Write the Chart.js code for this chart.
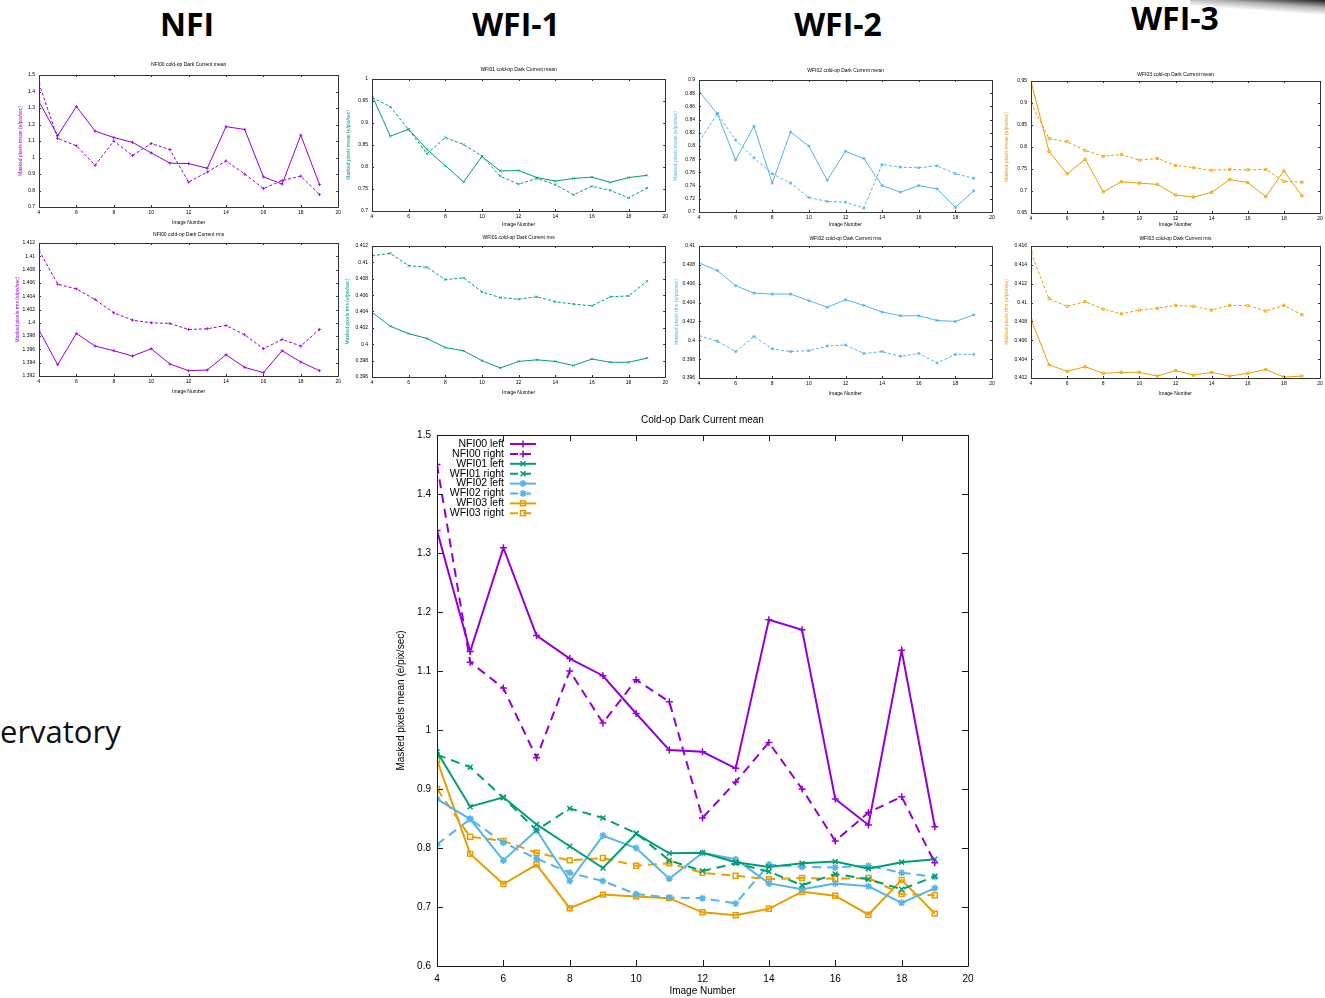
<!DOCTYPE html>
<html>
<head>
<meta charset="utf-8">
<script src="https://cdn.jsdelivr.net/npm/chart.js@4.4.1/dist/chart.umd.min.js"></script>
<style>
  html, body { margin: 0; padding: 0; background: #fff; }
  body { width: 1325px; height: 998px; position: relative; overflow: hidden; }
  .hd { position: absolute; font-family: "Open Sans", sans-serif; font-weight: 700; font-size: 32px;
        line-height: 1; color: #000; transform: translateX(-50%); white-space: nowrap; }
  canvas { position: absolute; }
  #side { position: absolute; left: 0; top: 716px; font-family: "Open Sans", sans-serif; font-size: 31px;
          line-height: 1; color: #111; white-space: nowrap; }
  #corner { position: absolute; left: 1190px; top: -28px; width: 170px; height: 34px; transform: rotate(4deg);
            transform-origin: left bottom;
            background: linear-gradient(to bottom, #000 50%, rgba(0,0,0,0.3) 78%, rgba(255,255,255,0)); }
</style>
</head>
<body>
<div id="corner"></div>
<div class="hd" style="left:187px; top:8px">NFI</div>
<div class="hd" style="left:516px; top:8px">WFI-1</div>
<div class="hd" style="left:838px; top:8px">WFI-2</div>
<div class="hd" style="left:1175px; top:2px">WFI-3</div>
<div id="side">ervatory</div>

<canvas id="nfiMean"></canvas>
<canvas id="wfi1Mean"></canvas>
<canvas id="wfi2Mean"></canvas>
<canvas id="wfi3Mean"></canvas>
<canvas id="nfiRms"></canvas>
<canvas id="wfi1Rms"></canvas>
<canvas id="wfi2Rms"></canvas>
<canvas id="wfi3Rms"></canvas>
<canvas id="allMean"></canvas>

<script>
// 画像番号（横軸）
const imageNumbers = [4, 5, 6, 7, 8, 9, 10, 11, 12, 13, 14, 15, 16, 17, 18, 19];

// mean (e/pix/sec)
const nfi00LeftMean  = [1.338, 1.133, 1.309, 1.160, 1.121, 1.092, 1.028, 0.966, 0.963, 0.935, 1.187, 1.170, 0.883, 0.839, 1.135, 0.836];
const nfi00RightMean = [1.450, 1.115, 1.071, 0.953, 1.100, 1.012, 1.085, 1.048, 0.851, 0.912, 0.979, 0.900, 0.812, 0.860, 0.887, 0.775];
const wfi01LeftMean  = [0.963, 0.870, 0.886, 0.840, 0.803, 0.766, 0.824, 0.791, 0.792, 0.776, 0.768, 0.774, 0.777, 0.765, 0.776, 0.781];
const wfi01RightMean = [0.958, 0.937, 0.885, 0.830, 0.867, 0.851, 0.825, 0.779, 0.761, 0.774, 0.760, 0.737, 0.756, 0.747, 0.730, 0.752];
const wfi02LeftMean  = [0.883, 0.849, 0.779, 0.830, 0.744, 0.821, 0.800, 0.748, 0.792, 0.781, 0.740, 0.730, 0.740, 0.735, 0.707, 0.732];
const wfi02RightMean = [0.806, 0.849, 0.809, 0.782, 0.758, 0.744, 0.722, 0.716, 0.715, 0.706, 0.772, 0.768, 0.767, 0.770, 0.758, 0.751];
const wfi03LeftMean  = [0.949, 0.790, 0.739, 0.772, 0.698, 0.721, 0.718, 0.715, 0.691, 0.686, 0.697, 0.726, 0.719, 0.687, 0.746, 0.689];
const wfi03RightMean = [0.900, 0.819, 0.812, 0.792, 0.779, 0.783, 0.770, 0.774, 0.758, 0.753, 0.747, 0.749, 0.748, 0.749, 0.722, 0.720];

// rms (e/pix/sec)
const nfi00LeftRms  = [1.3989, 1.3937, 1.3984, 1.3965, 1.3958, 1.3950, 1.3961, 1.3938, 1.3928, 1.3929, 1.3952, 1.3933, 1.3925, 1.3958, 1.3941, 1.3928];
const nfi00RightRms = [1.4109, 1.4058, 1.4051, 1.4035, 1.4015, 1.4004, 1.4000, 1.3999, 1.3990, 1.3991, 1.3996, 1.3982, 1.3961, 1.3975, 1.3965, 1.3990];
const wfi01LeftRms  = [0.4039, 0.4022, 0.4013, 0.4007, 0.3996, 0.3992, 0.3980, 0.3971, 0.3979, 0.3981, 0.3979, 0.3974, 0.3982, 0.3978, 0.3978, 0.3983];
const wfi01RightRms = [0.4108, 0.4111, 0.4096, 0.4094, 0.4079, 0.4081, 0.4064, 0.4057, 0.4055, 0.4058, 0.4052, 0.4049, 0.4047, 0.4058, 0.4059, 0.4077];
const wfi02LeftRms  = [0.4082, 0.4074, 0.4058, 0.4050, 0.4049, 0.4049, 0.4042, 0.4035, 0.4043, 0.4037, 0.4030, 0.4026, 0.4026, 0.4021, 0.4020, 0.4027];
const wfi02RightRms = [0.4005, 0.3999, 0.3988, 0.4004, 0.3991, 0.3988, 0.3989, 0.3994, 0.3995, 0.3986, 0.3988, 0.3983, 0.3986, 0.3976, 0.3985, 0.3985];
const wfi03LeftRms  = [0.4082, 0.4034, 0.4027, 0.4032, 0.4025, 0.4026, 0.4026, 0.4022, 0.4028, 0.4023, 0.4026, 0.4022, 0.4025, 0.4029, 0.4021, 0.4022];
const wfi03RightRms = [0.4153, 0.4104, 0.4096, 0.4101, 0.4093, 0.4088, 0.4092, 0.4094, 0.4097, 0.4096, 0.4092, 0.4097, 0.4097, 0.4091, 0.4097, 0.4087];

// 軸の範囲 [min, max, step]
const xAxisRange    = [4, 20, 2];
const nfiMeanRange  = [0.7, 1.5, 0.1];
const wfi1MeanRange = [0.7, 1.0, 0.05];
const wfi2MeanRange = [0.7, 0.9, 0.02];
const wfi3MeanRange = [0.65, 0.95, 0.05];
const nfiRmsRange   = [1.392, 1.412, 0.002];
const wfi1RmsRange  = [0.396, 0.412, 0.002];
const wfi2RmsRange  = [0.396, 0.41, 0.002];
const wfi3RmsRange  = [0.402, 0.416, 0.002];
const allMeanRange  = [0.6, 1.5, 0.1];

// gnuplot の標準色
const NFI_COLOR  = '#9400d3';
const WFI1_COLOR = '#009e73';
const WFI2_COLOR = '#56b4e9';
const WFI3_COLOR = '#e69f00';

Chart.defaults.font.family = '"Liberation Sans", Arial, sans-serif';
Chart.defaults.color = '#000';

function series(label, values, color, style, dashed, big) {
    return {
        label: label,
        data: imageNumbers.map((x, i) => ({ x: x, y: values[i] })),
        borderColor: color,
        backgroundColor: color,
        borderWidth: big ? 2 : 1,
        borderDash: dashed ? (big ? [9, 6] : [3, 2]) : [],
        pointStyle: style,
        pointRadius: big ? 3.5 : 1.6,
        pointBorderWidth: big ? 1.5 : 0.8,
        pointBorderColor: color,
        pointBackgroundColor: style === 'rect' ? 'rgba(0,0,0,0)' : color,
        tension: 0,
        fill: false
    };
}

// 枠線と内向きの目盛り（gnuplot 風）
const framePlugin = {
    id: 'frame',
    afterDatasetsDraw(chart, args, opts) {
        const { ctx, chartArea: a, scales } = chart;
        const len = opts.tick;
        ctx.save();
        ctx.strokeStyle = opts.color;
        ctx.lineWidth = 1;
        ctx.beginPath();
        ctx.rect(Math.round(a.left) + 0.5, Math.round(a.top) + 0.5,
                 Math.round(a.right - a.left), Math.round(a.bottom - a.top));
        scales.x.ticks.forEach(t => {
            const px = Math.round(scales.x.getPixelForValue(t.value)) + 0.5;
            ctx.moveTo(px, a.bottom); ctx.lineTo(px, a.bottom - len);
            ctx.moveTo(px, a.top); ctx.lineTo(px, a.top + len);
        });
        scales.y.ticks.forEach(t => {
            const py = Math.round(scales.y.getPixelForValue(t.value)) + 0.5;
            ctx.moveTo(a.left, py); ctx.lineTo(a.left + len, py);
            ctx.moveTo(a.right, py); ctx.lineTo(a.right - len, py);
        });
        ctx.stroke();
        ctx.restore();
    }
};

// 凡例（左上、テキストの右に線と記号）
const keyPlugin = {
    id: 'key',
    afterDatasetsDraw(chart, args, opts) {
        const { ctx, chartArea: a } = chart;
        ctx.save();
        ctx.font = opts.font;
        ctx.textAlign = 'right';
        ctx.textBaseline = 'middle';
        chart.data.datasets.forEach((ds, i) => {
            const y = a.top + opts.top + i * opts.gap;
            const xt = a.left + opts.textRight;
            ctx.fillStyle = '#000';
            ctx.fillText(ds.label, xt, y);
            const x0 = xt + opts.space;
            ctx.strokeStyle = ds.borderColor;
            ctx.lineWidth = ds.borderWidth;
            ctx.setLineDash(ds.borderDash.length ? [8, 5] : []);
            ctx.beginPath();
            ctx.moveTo(x0, y);
            ctx.lineTo(x0 + opts.len, y);
            ctx.stroke();
            ctx.setLineDash([]);
            ctx.fillStyle = ds.pointBackgroundColor;
            ctx.lineWidth = ds.pointBorderWidth;
            Chart.helpers.drawPoint(ctx, { pointStyle: ds.pointStyle, radius: ds.pointRadius,
                borderWidth: ds.pointBorderWidth, rotation: 0 }, x0 + opts.len / 2, y);
        });
        ctx.restore();
    }
};

function makeChart(id, box, datasets, yRange, texts, big) {
    const f = big ? 10 : 5;
    const lh = 1.2 * f;
    const [l, t, r, b] = box.plot;
    const bottom = box.top + box.height;
    const cv = document.getElementById(id);
    cv.width = box.width;
    cv.height = box.height;
    cv.style.left = box.left + 'px';
    cv.style.top = box.top + 'px';

    return new Chart(cv, {
        type: 'line',
        data: { datasets: datasets },
        options: {
            responsive: false,
            animation: false,
            events: [],
            layout: { padding: { top: box.titleY - box.top - lh / 2, right: box.left + box.width - r, left: 0, bottom: 0 } },
            plugins: {
                legend: { display: false },
                tooltip: { enabled: false },
                title: {
                    display: true, text: texts.title, fullSize: false, color: '#000',
                    font: { size: f, weight: 'normal' },
                    padding: { top: 0, bottom: t - box.titleY - lh / 2 }
                },
                frame: { tick: big ? 6 : 2, color: big ? '#1a1a1a' : '#333' },
                key: { font: '10.5px "Liberation Sans", Arial, sans-serif', textRight: 67, top: 9, gap: 9.9, len: 26, space: 6 }
            },
            scales: {
                x: {
                    type: 'linear', min: xAxisRange[0], max: xAxisRange[1],
                    ticks: { stepSize: xAxisRange[2], padding: big ? 7 : 3, font: { size: f }, color: '#000', maxRotation: 0, autoSkip: false },
                    grid: { display: false, drawTicks: false },
                    border: { display: false },
                    title: {
                        display: true, text: 'Image Number', color: '#000', font: { size: f },
                        padding: { top: 0, bottom: bottom - box.xTitleY - lh / 2 }
                    },
                    afterFit: s => { s.height = bottom - b; s.paddingLeft = 0; s.paddingRight = 0; }
                },
                y: {
                    type: 'linear', min: yRange[0], max: yRange[1],
                    ticks: { stepSize: yRange[2], padding: big ? 6 : 4, font: { size: f }, color: '#000', autoSkip: false,
                             callback: v => String(+v.toFixed(4)) },
                    grid: { display: false, drawTicks: false },
                    border: { display: false },
                    title: {
                        display: true, text: texts.yTitle, color: texts.yColor, font: { size: f },
                        padding: { top: box.yTitleX - box.left - lh / 2, bottom: 0 }
                    },
                    afterFit: s => { s.width = l - box.left; s.paddingTop = 0; s.paddingBottom = 0; }
                }
            }
        },
        plugins: big ? [framePlugin, keyPlugin] : [framePlugin]
    });
}

const MEAN_Y = 'Masked pixels mean (e/pix/sec)';
const RMS_Y = 'Masked pixels rms (e/pix/sec)';

// 上段：mean
makeChart('nfiMean', { left: 0, top: 60, width: 343, height: 167, plot: [39, 75, 340, 207], titleY: 65, xTitleY: 223, yTitleX: 21 },
    [series('NFI00 left', nfi00LeftMean, NFI_COLOR, 'cross', false), series('NFI00 right', nfi00RightMean, NFI_COLOR, 'cross', true)],
    nfiMeanRange, { title: 'NFI00 cold-op Dark Current mean', yTitle: MEAN_Y, yColor: NFI_COLOR });
makeChart('wfi1Mean', { left: 345, top: 60, width: 325, height: 169, plot: [372, 79, 668, 211], titleY: 70, xTitleY: 225, yTitleX: 349 },
    [series('WFI01 left', wfi01LeftMean, WFI1_COLOR, 'crossRot', false), series('WFI01 right', wfi01RightMean, WFI1_COLOR, 'crossRot', true)],
    wfi1MeanRange, { title: 'WFI01 cold-op Dark Current mean', yTitle: MEAN_Y, yColor: WFI1_COLOR });
makeChart('wfi2Mean', { left: 672, top: 60, width: 328, height: 169, plot: [699, 80, 992, 212], titleY: 71, xTitleY: 225, yTitleX: 676 },
    [series('WFI02 left', wfi02LeftMean, WFI2_COLOR, 'star', false), series('WFI02 right', wfi02RightMean, WFI2_COLOR, 'star', true)],
    wfi2MeanRange, { title: 'WFI02 cold-op Dark Current mean', yTitle: MEAN_Y, yColor: WFI2_COLOR });
makeChart('wfi3Mean', { left: 1000, top: 60, width: 325, height: 169, plot: [1031, 81, 1320, 213], titleY: 75, xTitleY: 225, yTitleX: 1007 },
    [series('WFI03 left', wfi03LeftMean, WFI3_COLOR, 'rect', false), series('WFI03 right', wfi03RightMean, WFI3_COLOR, 'rect', true)],
    wfi3MeanRange, { title: 'WFI03 cold-op Dark Current mean', yTitle: MEAN_Y, yColor: WFI3_COLOR });

// 中段：rms
makeChart('nfiRms', { left: 0, top: 228, width: 343, height: 168, plot: [39, 243, 340, 376], titleY: 235, xTitleY: 392, yTitleX: 18 },
    [series('NFI00 left', nfi00LeftRms, NFI_COLOR, 'cross', false), series('NFI00 right', nfi00RightRms, NFI_COLOR, 'cross', true)],
    nfiRmsRange, { title: 'NFI00 cold-op Dark Current rms', yTitle: RMS_Y, yColor: NFI_COLOR });
makeChart('wfi1Rms', { left: 345, top: 228, width: 325, height: 169, plot: [372, 246, 668, 377], titleY: 238, xTitleY: 393, yTitleX: 348 },
    [series('WFI01 left', wfi01LeftRms, WFI1_COLOR, 'crossRot', false), series('WFI01 right', wfi01RightRms, WFI1_COLOR, 'crossRot', true)],
    wfi1RmsRange, { title: 'WFI01 cold-op Dark Current rms', yTitle: RMS_Y, yColor: WFI1_COLOR });
makeChart('wfi2Rms', { left: 672, top: 228, width: 328, height: 170, plot: [699, 246, 992, 378], titleY: 239, xTitleY: 394, yTitleX: 677 },
    [series('WFI02 left', wfi02LeftRms, WFI2_COLOR, 'star', false), series('WFI02 right', wfi02RightRms, WFI2_COLOR, 'star', true)],
    wfi2RmsRange, { title: 'WFI02 cold-op Dark Current rms', yTitle: RMS_Y, yColor: WFI2_COLOR });
makeChart('wfi3Rms', { left: 1000, top: 228, width: 325, height: 170, plot: [1031, 246, 1320, 378], titleY: 239, xTitleY: 394, yTitleX: 1007 },
    [series('WFI03 left', wfi03LeftRms, WFI3_COLOR, 'rect', false), series('WFI03 right', wfi03RightRms, WFI3_COLOR, 'rect', true)],
    wfi3RmsRange, { title: 'WFI03 cold-op Dark Current rms', yTitle: RMS_Y, yColor: WFI3_COLOR });

// 下段：全センサーの mean
makeChart('allMean', { left: 385, top: 408, width: 600, height: 590, plot: [437, 435, 968, 966], titleY: 420, xTitleY: 991, yTitleX: 401 },
    [
        series('NFI00 left', nfi00LeftMean, NFI_COLOR, 'cross', false, true),
        series('NFI00 right', nfi00RightMean, NFI_COLOR, 'cross', true, true),
        series('WFI01 left', wfi01LeftMean, WFI1_COLOR, 'crossRot', false, true),
        series('WFI01 right', wfi01RightMean, WFI1_COLOR, 'crossRot', true, true),
        series('WFI02 left', wfi02LeftMean, WFI2_COLOR, 'star', false, true),
        series('WFI02 right', wfi02RightMean, WFI2_COLOR, 'star', true, true),
        series('WFI03 left', wfi03LeftMean, WFI3_COLOR, 'rect', false, true),
        series('WFI03 right', wfi03RightMean, WFI3_COLOR, 'rect', true, true)
    ],
    allMeanRange, { title: 'Cold-op Dark Current mean', yTitle: MEAN_Y, yColor: '#000' }, true);
</script>
</body>
</html>
